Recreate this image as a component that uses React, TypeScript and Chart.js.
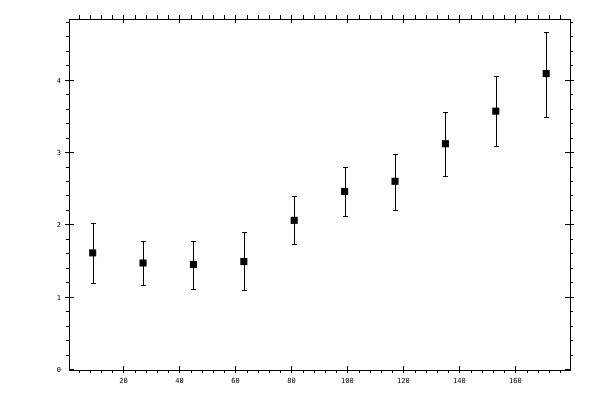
import { useEffect, useRef } from "react";
import { Chart, registerables } from "chart.js";

Chart.register(...registerables);

// valores
const xValues = [9, 27, 45, 63, 81, 99, 117, 135, 153, 171];
const yValues = [1.62, 1.48, 1.46, 1.5, 2.07, 2.47, 2.61, 3.13, 3.58, 4.1];
const yLow = [1.21, 1.18, 1.12, 1.1, 1.74, 2.13, 2.22, 2.68, 3.1, 3.5];
const yHigh = [2.04, 1.78, 1.79, 1.91, 2.4, 2.81, 2.99, 3.57, 4.06, 4.68];

const xTickLabels = [20, 40, 60, 80, 100, 120, 140, 160];
const yTickLabels = [0, 1, 2, 3, 4];

const tickFont = { family: "'DejaVu Sans Mono', monospace", size: 7 };

// barras de error dibujadas con las escalas del gráfico
const errorBarsPlugin = {
  id: "errorBars",
  beforeDatasetsDraw(chart: any) {
    const { ctx, scales } = chart;
    const x = scales.x;
    const y = scales.y;
    ctx.save();
    ctx.strokeStyle = "#000";
    ctx.lineWidth = 1;
    xValues.forEach((xv, i) => {
      const px = Math.round(x.getPixelForValue(xv)) + 0.5;
      const top = Math.round(y.getPixelForValue(yHigh[i])) + 0.5;
      const bot = Math.round(y.getPixelForValue(yLow[i])) + 0.5;
      ctx.beginPath();
      ctx.moveTo(px, top);
      ctx.lineTo(px, bot);
      ctx.moveTo(px - 2.5, top);
      ctx.lineTo(px + 2.5, top);
      ctx.moveTo(px - 2.5, bot);
      ctx.lineTo(px + 2.5, bot);
      ctx.stroke();
    });
    ctx.restore();
  },
};

// marcas de los ejes en los cuatro lados (mayores cruzan el eje, menores hacia fuera)
const axisTicksPlugin = {
  id: "axisTicks",
  afterDraw(chart: any) {
    const { ctx, scales, chartArea } = chart;
    const { left, right, top, bottom } = chartArea;
    const x = scales.x;
    const y = scales.y;
    ctx.save();
    ctx.strokeStyle = "#000";
    ctx.lineWidth = 1;
    ctx.beginPath();
    for (let v = 4; v < x.max; v += 4) {
      const px = Math.round(x.getPixelForValue(v)) + 0.5;
      const major = v % 20 === 0;
      ctx.moveTo(px, bottom + 3);
      ctx.lineTo(px, major ? bottom - 4 : bottom);
      ctx.moveTo(px, top - 4);
      ctx.lineTo(px, major ? top + 4 : top);
    }
    for (let k = 0; k * 0.2 < y.max; k++) {
      const v = k * 0.2;
      const py = Math.round(y.getPixelForValue(v)) - 0.5;
      const major = k % 5 === 0;
      const out = k === 0 ? 0 : major ? 4 : 3;
      ctx.moveTo(left - out, py);
      ctx.lineTo(major ? left + 5 : left, py);
      ctx.moveTo(right + out, py);
      ctx.lineTo(major ? right - 5 : right, py);
    }
    ctx.stroke();
    ctx.restore();
  },
};

const ErrorBarChart = () => {
  const canvasRef = useRef<HTMLCanvasElement>(null);

  useEffect(() => {
    if (!canvasRef.current) return;
    const chart = new Chart(canvasRef.current, {
      type: "scatter",
      data: {
        datasets: [
          {
            data: xValues.map((xv, i) => ({ x: xv, y: yValues[i] })),
            pointStyle: "rect",
            pointRadius: 5,
            pointBorderWidth: 0,
            backgroundColor: "#000",
            borderColor: "#000",
          },
        ],
      },
      options: {
        responsive: false,
        animation: false,
        layout: { padding: 0 },
        plugins: { legend: { display: false }, tooltip: { enabled: false } },
        scales: {
          x: {
            type: "linear",
            position: "bottom",
            min: 0.55,
            max: 179.5,
            afterFit: (s: any) => { s.height = 30; },
            afterBuildTicks: (s: any) => { s.ticks = xTickLabels.map((v) => ({ value: v })); },
            grid: { display: false, drawTicks: false },
            border: { display: true, color: "#000", width: 1 },
            ticks: { font: tickFont, color: "#000", padding: 7, maxRotation: 0, autoSkip: false },
          },
          x2: {
            type: "linear",
            position: "top",
            min: 0.55,
            max: 179.5,
            afterFit: (s: any) => { s.height = 19; },
            grid: { display: false, drawTicks: false },
            border: { display: true, color: "#000", width: 1 },
            ticks: { display: false },
          },
          y: {
            type: "linear",
            position: "left",
            min: 0,
            max: 4.855,
            afterFit: (s: any) => { s.width = 69; },
            afterBuildTicks: (s: any) => { s.ticks = yTickLabels.map((v) => ({ value: v })); },
            grid: { display: false, drawTicks: false },
            border: { display: true, color: "#000", width: 1 },
            ticks: { font: tickFont, color: "#000", padding: 8, autoSkip: false },
          },
          y2: {
            type: "linear",
            position: "right",
            min: 0,
            max: 4.855,
            afterFit: (s: any) => { s.width = 30; },
            grid: { display: false, drawTicks: false },
            border: { display: true, color: "#000", width: 1 },
            ticks: { display: false },
          },
        },
      },
      plugins: [errorBarsPlugin, axisTicksPlugin],
    });

    return () => {
      chart.destroy();
    };
  }, []);

  return (
    <div style={{ position: "absolute", left: 0, top: 0, width: 600, height: 400, background: "#fff" }}>
      <canvas ref={canvasRef} width={600} height={400} />
    </div>
  );
};

export default ErrorBarChart;
